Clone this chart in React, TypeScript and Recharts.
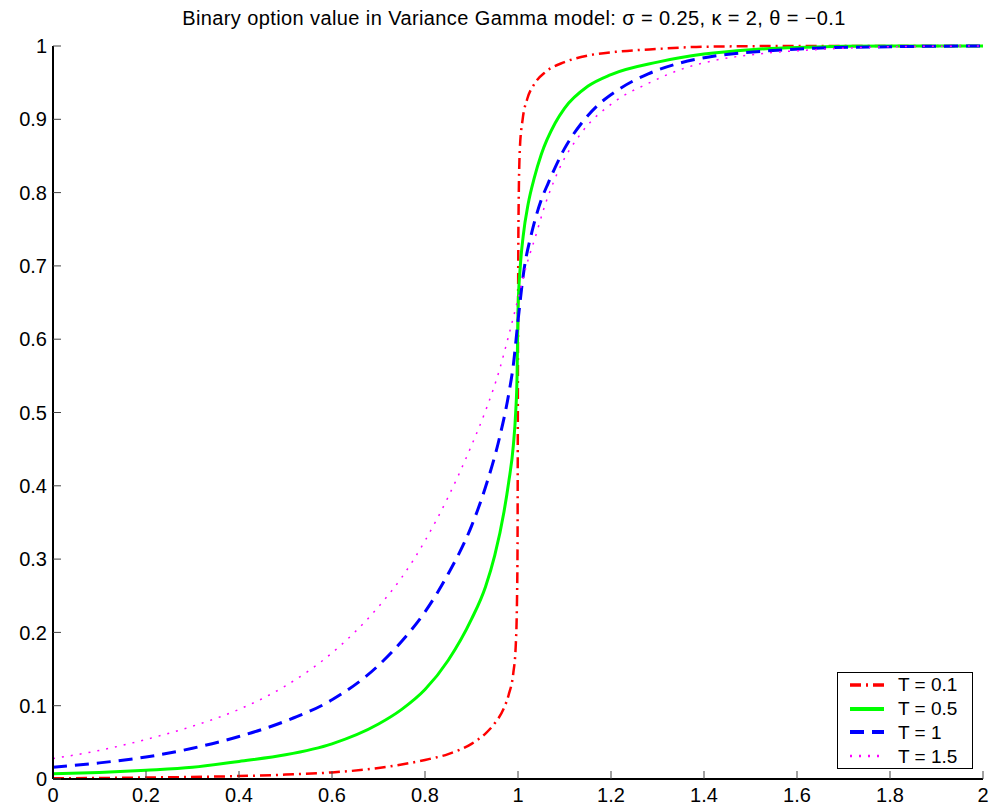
import React from 'react'
import { LineChart, Line, XAxis, YAxis, Legend } from 'recharts'

// T = 0.1
const t01X = [0, 0.2, 0.4, 0.5, 0.6, 0.7, 0.8, 0.85, 0.9, 0.93, 0.95, 0.97, 0.98, 0.99, 0.995, 0.998, 0.999, 1.0, 1.001, 1.004, 1.01, 1.02, 1.035, 1.06, 1.1, 1.15, 1.21, 1.3, 1.4, 1.6, 2.0]
const t01Y = [0.001, 0.002, 0.004, 0.006, 0.009, 0.015, 0.026, 0.034, 0.048, 0.062, 0.076, 0.097, 0.115, 0.145, 0.18, 0.25, 0.32, 0.6, 0.76, 0.86, 0.9, 0.928, 0.948, 0.965, 0.978, 0.987, 0.992, 0.996, 0.999, 1.0, 1.0]

// T = 0.5
const t05X = [0, 0.1, 0.2, 0.3, 0.4, 0.5, 0.6, 0.7, 0.75, 0.8, 0.85, 0.9, 0.93, 0.95, 0.97, 0.98, 0.99, 0.995, 0.998, 1.0, 1.005, 1.011, 1.022, 1.035, 1.05, 1.08, 1.1, 1.15, 1.2, 1.3, 1.4, 1.5, 1.6, 1.8, 2.0]
const t05Y = [0.007, 0.009, 0.012, 0.016, 0.024, 0.033, 0.048, 0.075, 0.095, 0.122, 0.162, 0.218, 0.262, 0.305, 0.365, 0.405, 0.455, 0.5, 0.55, 0.64, 0.7, 0.74, 0.785, 0.82, 0.852, 0.895, 0.915, 0.945, 0.961, 0.978, 0.989, 0.995, 0.998, 1.0, 1.0]

// T = 1
const t1X = [0, 0.1, 0.2, 0.3, 0.4, 0.5, 0.6, 0.7, 0.75, 0.8, 0.85, 0.9, 0.93, 0.96, 0.98, 0.99, 1.0, 1.013, 1.029, 1.05, 1.065, 1.1, 1.137, 1.173, 1.21, 1.28, 1.35, 1.42, 1.53, 1.64, 1.8, 2.0]
const t1Y = [0.016, 0.022, 0.03, 0.042, 0.058, 0.079, 0.108, 0.155, 0.188, 0.228, 0.28, 0.345, 0.398, 0.465, 0.525, 0.565, 0.625, 0.695, 0.744, 0.79, 0.813, 0.86, 0.895, 0.92, 0.938, 0.962, 0.977, 0.986, 0.993, 0.997, 0.999, 1.0]

// T = 1.5
const t15X = [0, 0.1, 0.2, 0.3, 0.4, 0.5, 0.6, 0.7, 0.75, 0.8, 0.85, 0.9, 0.93, 0.96, 0.98, 1.0, 1.018, 1.04, 1.054, 1.087, 1.137, 1.21, 1.28, 1.35, 1.42, 1.53, 1.64, 1.8, 2.0]
const t15Y = [0.028, 0.039, 0.054, 0.072, 0.095, 0.127, 0.172, 0.235, 0.275, 0.325, 0.385, 0.455, 0.502, 0.558, 0.605, 0.655, 0.7, 0.745, 0.775, 0.83, 0.882, 0.925, 0.949, 0.968, 0.98, 0.99, 0.995, 0.999, 1.0]

const xTicks = [0, 0.2, 0.4, 0.6, 0.8, 1, 1.2, 1.4, 1.6, 1.8, 2]
const yTicks = [0, 0.1, 0.2, 0.3, 0.4, 0.5, 0.6, 0.7, 0.8, 0.9, 1]

const series = [
  { key: 't01', name: 'T = 0.1', xs: t01X, ys: t01Y, color: '#ff0000', width: 2.5, dash: '11 5 2 5' },
  { key: 't05', name: 'T = 0.5', xs: t05X, ys: t05Y, color: '#00ff00', width: 3, dash: undefined },
  { key: 't1', name: 'T = 1', xs: t1X, ys: t1Y, color: '#0000ff', width: 3, dash: '14 8' },
  { key: 't15', name: 'T = 1.5', xs: t15X, ys: t15Y, color: '#ff00ff', width: 1.5, dash: '2 7' },
]

// merge the four series into one table keyed by x
const rows = new Map<number, any>()
series.forEach(s => {
  s.xs.forEach((x, i) => {
    const row = rows.get(x) ?? { x }
    row[s.key] = s.ys[i]
    rows.set(x, row)
  })
})
const data = [...rows.values()].sort((a, b) => a.x - b.x)

const font = "'Liberation Sans', Arial, sans-serif"
const tickStyle = { fontSize: 20, fill: '#000', fontFamily: font }
const fmt = (v: number) => String(v)
const blank = () => ''

const renderLegend = () => (
  <div style={{ border: '1px solid #000', background: '#fff', width: 134, height: 95, boxSizing: 'content-box', fontFamily: font, fontSize: 19 }}>
    {series.map(s => (
      <div key={s.key} style={{ display: 'flex', alignItems: 'center', height: 23.75 }}>
        <svg width={60} height={10} style={{ flex: 'none' }}>
          <line x1={12} x2={46} y1={5} y2={5} stroke={s.color} strokeWidth={s.width + 1} strokeDasharray={s.dash} />
        </svg>
        <span style={{ lineHeight: 1 }}>{s.name}</span>
      </div>
    ))}
  </div>
)

const App = () => {
  return (
    <div style={{ position: 'absolute', left: 0, top: 0, width: 994, height: 810, background: '#fff' }}>
      <div style={{ position: 'absolute', left: 0, width: 1028, top: 8, textAlign: 'center', fontFamily: font, fontSize: 20, lineHeight: '20px', letterSpacing: 0.4, color: '#000' }}>
        Binary option value in Variance Gamma model: σ = 0.25, κ = 2, θ = −0.1
      </div>
      <LineChart width={994} height={810} data={data} margin={{ top: 46, right: 11, left: 3, bottom: 0 }}>
        <XAxis
          dataKey="x"
          type="number"
          domain={[0, 2]}
          ticks={xTicks}
          tickFormatter={fmt}
          height={31}
          tickSize={-8}
          tickMargin={17}
          tick={tickStyle}
          axisLine={{ stroke: '#000', strokeWidth: 2 }}
          tickLine={{ stroke: '#444' }}
        />
        <XAxis
          xAxisId="top"
          orientation="top"
          dataKey="x"
          type="number"
          domain={[0, 2]}
          ticks={xTicks}
          tickFormatter={blank}
          height={0}
          tickSize={-8}
          axisLine={{ stroke: '#000', strokeWidth: 1 }}
          tickLine={{ stroke: '#444' }}
        />
        <YAxis
          type="number"
          domain={[0, 1]}
          ticks={yTicks}
          tickFormatter={fmt}
          width={50}
          tickSize={-8}
          tickMargin={14}
          tick={tickStyle}
          axisLine={{ stroke: '#000', strokeWidth: 2 }}
          tickLine={{ stroke: '#444' }}
        />
        <YAxis
          yAxisId="right"
          orientation="right"
          type="number"
          domain={[0, 1]}
          ticks={yTicks}
          tickFormatter={blank}
          width={0}
          tickSize={-8}
          axisLine={{ stroke: '#000', strokeWidth: 2 }}
          tickLine={{ stroke: '#444' }}
        />
        {series.map(s => (
          <Line
            key={s.key}
            dataKey={s.key}
            name={s.name}
            type="monotone"
            stroke={s.color}
            strokeWidth={s.width}
            strokeDasharray={s.dash}
            dot={false}
            activeDot={false}
            connectNulls
            isAnimationActive={false}
          />
        ))}
        <Legend
          layout="vertical"
          align="center"
          verticalAlign="middle"
          content={renderLegend}
          wrapperStyle={{ left: 837, top: 672, width: 136, height: 97 }}
        />
      </LineChart>
    </div>
  )
}

export default App
